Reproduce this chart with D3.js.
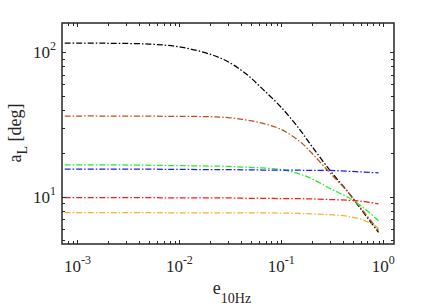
<!DOCTYPE html>
<html><head><meta charset="utf-8">
<script src="https://cdn.jsdelivr.net/npm/d3@7/dist/d3.min.js"></script>
<style>body{margin:0;background:#fff}svg{display:block}</style>
</head><body><svg id="c" width="436" height="308"></svg>
<script>
const eVals = [0.00075, 0.002, 0.005, 0.01, 0.02, 0.03, 0.045, 0.065, 0.1, 0.15, 0.2, 0.3, 0.45, 0.65, 0.9];
const black  = [116, 115.5, 114, 109, 97, 86, 71, 56, 41.5, 29.5, 22.3, 15.2, 10.8, 7.65, 5.65];
const brown  = [36.2, 36.2, 36.1, 36.0, 35.8, 35.3, 34.0, 32.3, 29.2, 24.3, 20.0, 14.6, 10.8, 7.8, 5.85];
const green  = [16.6, 16.6, 16.5, 16.4, 16.3, 16.2, 16.0, 15.8, 15.4, 14.4, 13.3, 11.4, 9.9, 8.3, 6.8];
const blue   = [15.5, 15.5, 15.5, 15.45, 15.4, 15.4, 15.35, 15.3, 15.25, 15.25, 15.2, 15.2, 15.0, 14.8, 14.6];
const red    = [9.85, 9.85, 9.85, 9.8, 9.8, 9.8, 9.75, 9.75, 9.7, 9.68, 9.65, 9.55, 9.45, 9.25, 8.9];
const orange = [7.75, 7.75, 7.75, 7.73, 7.73, 7.72, 7.72, 7.71, 7.7, 7.65, 7.6, 7.5, 7.3, 6.85, 6.05];
const seriesNames = ["black", "brown", "green", "blue", "red", "orange"];
const seriesColors = ["#000000", "#bb521e", "#22ee22", "#1a1aff", "#ff1a1a", "#f0b432"];
const xTickExps = [-3, -2, -1, 0];
const yTickExps = [1, 2];
const xLabel = ["e", "10Hz"];
const yLabel = ["a", "L", " [deg]"];

const allSeries = [black, brown, green, blue, red, orange];
const L = 62, R = 394, T = 23, B = 244;
const svg = d3.select("#c");
const x = d3.scaleLog().domain([7.05e-4, 1.276]).range([L, R]);
const y = d3.scaleLog().domain([4.70, 159.6]).range([B, T]);
const font = "'Liberation Serif','Times New Roman',serif";
const axisCol = "#262626";

// curves
const line = d3.line().x((d) => x(d[0])).y((d) => y(d[1])).curve(d3.curveCatmullRom.alpha(0.5));
allSeries.forEach((s, i) => {
  svg.append("path")
    .datum(eVals.map((e, k) => [e, s[k]]))
    .attr("d", line)
    .attr("fill", "none")
    .attr("stroke", seriesColors[i])
    .attr("stroke-width", 1.25)
    .attr("stroke-dasharray", "6,2,1.5,2");
});

// ticks
const xMajor = xTickExps.map((p) => Math.pow(10, p));
const xMinor = [];
for (let p = -4; p <= 0; p++) for (let m = 2; m <= 9; m++) {
  const v = m * Math.pow(10, p);
  if (v >= x.domain()[0] && v <= x.domain()[1]) xMinor.push(v);
}
const yMajor = yTickExps.map((p) => Math.pow(10, p));
const yMinor = [];
for (let p = 0; p <= 2; p++) for (let m = 2; m <= 9; m++) {
  const v = m * Math.pow(10, p);
  if (v >= y.domain()[0] && v <= y.domain()[1]) yMinor.push(v);
}
const tk = svg.append("g").attr("stroke", axisCol).attr("stroke-width", 1);
function xt(v, len) {
  const px = Math.round(x(v)) + 0.5;
  tk.append("line").attr("x1", px).attr("x2", px).attr("y1", B).attr("y2", B - len);
  tk.append("line").attr("x1", px).attr("x2", px).attr("y1", T).attr("y2", T + len);
}
function yt(v, len) {
  const py = Math.round(y(v)) + 0.5;
  tk.append("line").attr("y1", py).attr("y2", py).attr("x1", L).attr("x2", L + len);
  tk.append("line").attr("y1", py).attr("y2", py).attr("x1", R).attr("x2", R - len);
}
xMajor.forEach((v) => xt(v, 4));
xMinor.forEach((v) => xt(v, 3));
yMajor.forEach((v) => yt(v, 4));
yMinor.forEach((v) => yt(v, 3));

// frame
svg.append("rect").attr("x", L).attr("y", T).attr("width", R - L).attr("height", B - T)
  .attr("fill", "none").attr("stroke", axisCol).attr("stroke-width", 1.5);

// tick labels
xTickExps.forEach((p) => {
  const t = svg.append("text").attr("x", x(Math.pow(10, p))).attr("y", 272)
    .attr("text-anchor", "middle").attr("font-family", font).attr("font-size", 17).attr("fill", axisCol);
  t.append("tspan").text("10");
  t.append("tspan").attr("dy", -8).attr("font-size", 12).text(String(p));
});
yTickExps.forEach((p) => {
  const t = svg.append("text").attr("x", 56).attr("y", y(Math.pow(10, p)) + 6)
    .attr("text-anchor", "end").attr("font-family", font).attr("font-size", 17).attr("fill", axisCol);
  t.append("tspan").text("10");
  t.append("tspan").attr("dy", -8).attr("font-size", 12).text(String(p));
});

// axis labels
const xl = svg.append("text").attr("x", 232).attr("y", 294).attr("text-anchor", "middle")
  .attr("font-family", font).attr("font-size", 18).attr("fill", axisCol);
xl.append("tspan").text(xLabel[0]);
xl.append("tspan").attr("dy", 9).attr("font-size", 14).text(xLabel[1]);

const yl = svg.append("text").attr("transform", "translate(21,133) rotate(-90)").attr("text-anchor", "middle")
  .attr("font-family", font).attr("font-size", 18).attr("fill", axisCol);
yl.append("tspan").text(yLabel[0]);
yl.append("tspan").attr("dy", 6).attr("font-size", 14).text(yLabel[1]);
yl.append("tspan").attr("dy", -6).text(yLabel[2]);
</script></body></html>
